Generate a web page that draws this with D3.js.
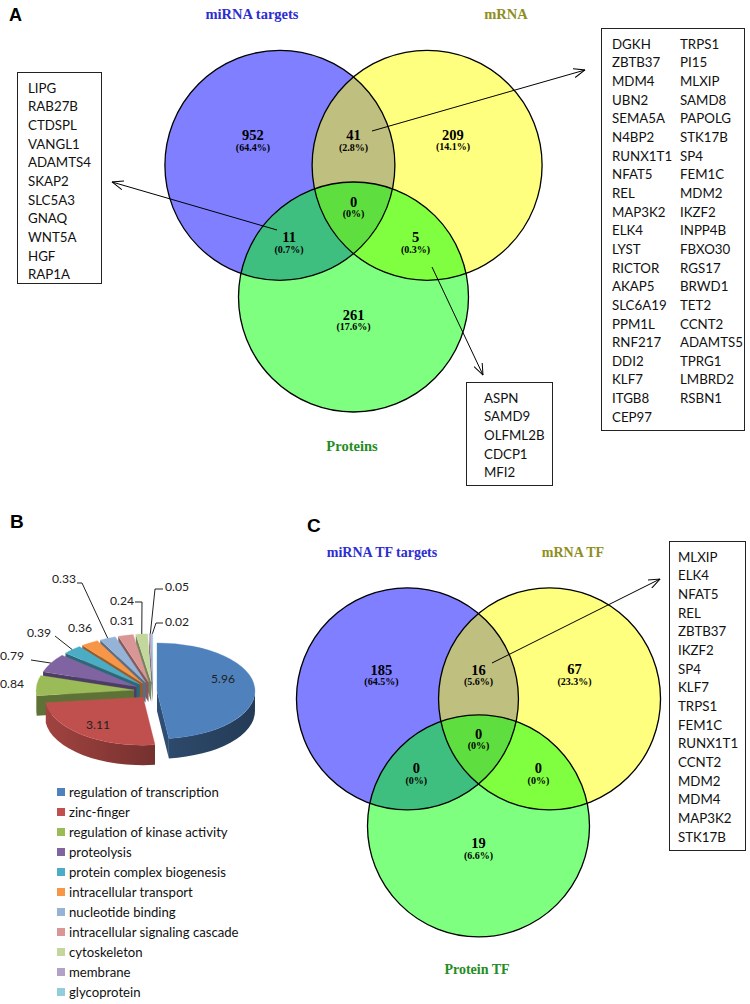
<!DOCTYPE html>
<html><head><meta charset="utf-8">
<script src="https://cdn.jsdelivr.net/npm/d3@7"></script>
<style>body{margin:0;background:#fff}</style></head>
<body><svg id="fig" width="750" height="1004"></svg>
<script>
// ---------------- DATA ----------------
// Venn region order: [set1 only, set1∩set2, set2 only, all three, set1∩set3, set2∩set3, set3 only]
const vennA_sets = ["miRNA targets", "mRNA", "Proteins"];
const vennA_counts = [952, 41, 209, 0, 11, 5, 261];
const vennA_pct = ["64.4%", "2.8%", "14.1%", "0%", "0.7%", "0.3%", "17.6%"];
const vennC_sets = ["miRNA TF targets", "mRNA TF", "Protein TF"];
const vennC_counts = [185, 16, 67, 0, 0, 0, 19];
const vennC_pct = ["64.5%", "5.6%", "23.3%", "0%", "0%", "0%", "6.6%"];

const genesA_miRNA_Protein = ["LIPG","RAB27B","CTDSPL","VANGL1","ADAMTS4","SKAP2","SLC5A3","GNAQ","WNT5A","HGF","RAP1A"];
const genesA_miRNA_mRNA_col1 = ["DGKH","ZBTB37","MDM4","UBN2","SEMA5A","N4BP2","RUNX1T1","NFAT5","REL","MAP3K2","ELK4","LYST","RICTOR","AKAP5","SLC6A19","PPM1L","RNF217","DDI2","KLF7","ITGB8","CEP97"];
const genesA_miRNA_mRNA_col2 = ["TRPS1","PI15","MLXIP","SAMD8","PAPOLG","STK17B","SP4","FEM1C","MDM2","IKZF2","INPP4B","FBXO30","RGS17","BRWD1","TET2","CCNT2","ADAMTS5","TPRG1","LMBRD2","RSBN1"];
const genesA_mRNA_Protein = ["ASPN","SAMD9","OLFML2B","CDCP1","MFI2"];
const genesC_miRNA_mRNA = ["MLXIP","ELK4","NFAT5","REL","ZBTB37","IKZF2","SP4","KLF7","TRPS1","FEM1C","RUNX1T1","CCNT2","MDM2","MDM4","MAP3K2","STK17B"];

const pieCategories = ["regulation of transcription","zinc-finger","regulation of kinase activity","proteolysis","protein complex biogenesis","intracellular transport","nucleotide binding","intracellular signaling cascade","cytoskeleton","membrane","glycoprotein"];
const pieValues = [5.96, 3.11, 0.84, 0.79, 0.39, 0.36, 0.33, 0.31, 0.24, 0.05, 0.02];
const pieColors = ["#4F81BD","#C0504D","#9BBB59","#8064A2","#4BACC6","#F79646","#95B3D7","#D99694","#C3D69B","#B3A2C7","#93CDDD"];

// ---------------- SETUP ----------------
const svg = d3.select("#fig");
const SERIF = "'Liberation Serif','Times New Roman',serif";
const SANS = "Lato, 'Open Sans', sans-serif";
const ARIAL = "'Liberation Sans', Arial, sans-serif";

function fitFont(family, weight, ref, target) {
  const t = svg.append("text").attr("font-family", family).attr("font-weight", weight)
    .attr("font-size", 20).text(ref);
  const w = t.node().getComputedTextLength();
  t.remove();
  return 20 * target / w;
}
const boxFont = fitFont(SANS, "normal", "ADAMTS4", 63);
const legFont = fitFont(SANS, "normal", "regulation of transcription", 150);
const pieLabFont = fitFont(SANS, "normal", "0.33", 24);

const defs = svg.append("defs");
defs.append("marker").attr("id", "arr").attr("markerUnits", "userSpaceOnUse")
  .attr("viewBox", "0 0 12 10").attr("refX", 11.5).attr("refY", 5)
  .attr("markerWidth", 12).attr("markerHeight", 10).attr("orient", "auto")
  .append("path").attr("d", "M0,0.5 L11.5,5 L0,9.5").attr("fill", "none")
  .attr("stroke", "#000").attr("stroke-width", 1);

function panelLabel(txt, x, y, size) {
  svg.append("text").attr("x", x).attr("y", y).attr("font-family", ARIAL)
    .attr("font-weight", "bold").attr("font-size", size).text(txt);
}

// ---------------- VENN ----------------
const vennUnitCenters = [[-0.64, -0.38], [0.64, -0.38], [0, 0.765]];
const vennUnitLabels = [[-0.875, -0.64], [0, -0.64], [0.865, -0.645], [0, -0.065], [-0.56, 0.245], [0.54, 0.245], [0, 0.92]];
const vennFills = ["#0000ff", "#ffff00", "#00ff00"];
const titleColors = ["#2d2dd2", "#8e8e1e", "#238c23"];

function drawVenn(cfg) {
  const x = d3.scaleLinear().domain([-1, 1]).range([cfg.cx - cfg.r, cfg.cx + cfg.r]);
  const y = d3.scaleLinear().domain([-1, 1]).range([cfg.cy - cfg.r, cfg.cy + cfg.r]);
  const g = svg.append("g");
  g.selectAll("circle.fill").data(vennUnitCenters).join("circle")
    .attr("cx", d => x(d[0])).attr("cy", d => y(d[1])).attr("r", cfg.r)
    .attr("fill", (d, i) => vennFills[i]).attr("fill-opacity", 0.5);
  g.selectAll("circle.stroke").data(vennUnitCenters).join("circle")
    .attr("cx", d => x(d[0])).attr("cy", d => y(d[1])).attr("r", cfg.r)
    .attr("fill", "none").attr("stroke", "#000").attr("stroke-width", 1.3);
  const lab = g.selectAll("g.lab").data(cfg.counts).join("g")
    .attr("transform", (d, i) => `translate(${x(vennUnitLabels[i][0])},${y(vennUnitLabels[i][1])})`);
  lab.append("text").attr("text-anchor", "middle").attr("y", 5)
    .attr("font-family", SERIF).attr("font-weight", "bold").attr("font-size", 14.5).text(d => d);
  lab.append("text").attr("text-anchor", "middle").attr("y", 15.5)
    .attr("font-family", SERIF).attr("font-weight", "bold").attr("font-size", 10)
    .text((d, i) => "(" + cfg.pct[i] + ")");
  cfg.titles.forEach((t, i) => {
    g.append("text").attr("x", t[0]).attr("y", t[1]).attr("text-anchor", "middle")
      .attr("font-family", SERIF).attr("font-weight", "bold").attr("font-size", cfg.titleSize)
      .attr("fill", titleColors[i]).text(cfg.sets[i]);
  });
}

function geneBox(x0, y0, x1, y1, cols) {
  svg.append("rect").attr("x", x0 + 0.5).attr("y", y0 + 0.5).attr("width", x1 - x0).attr("height", y1 - y0)
    .attr("fill", "#fff").attr("stroke", "#222").attr("stroke-width", 1);
  cols.forEach(c => {
    svg.append("g").selectAll("text").data(c.items).join("text")
      .attr("x", x0 + c.dx).attr("y", (d, i) => y0 + 16 + i * 18.65 + boxFont * 0.36)
      .attr("font-family", SANS).attr("font-size", boxFont).attr("fill", "#111").text(d => d);
  });
}
function arrow(x1, y1, x2, y2) {
  svg.append("line").attr("x1", x1).attr("y1", y1).attr("x2", x2).attr("y2", y2)
    .attr("stroke", "#000").attr("stroke-width", 1).attr("marker-end", "url(#arr)");
}

// Panel A
panelLabel("A", 9, 21, 18);
drawVenn({cx: 353.5, cy: 209, r: 115, counts: vennA_counts, pct: vennA_pct, sets: vennA_sets,
  titles: [[252, 19], [506, 19], [352, 451]], titleSize: 14.5});
geneBox(17, 72, 101, 283, [{dx: 11, items: genesA_miRNA_Protein}]);
geneBox(601, 28, 744, 430, [{dx: 11, items: genesA_miRNA_mRNA_col1}, {dx: 79, items: genesA_miRNA_mRNA_col2}]);
geneBox(466, 382, 552, 485, [{dx: 18, items: genesA_mRNA_Protein}]);
arrow(277, 230, 112, 182);
arrow(372, 131, 585, 70);
arrow(432, 267, 483, 375);

// Panel C
panelLabel("C", 307, 532, 19);
drawVenn({cx: 478.5, cy: 741, r: 111, counts: vennC_counts, pct: vennC_pct, sets: vennC_sets,
  titles: [[382, 557], [573, 557], [477, 974]], titleSize: 14});
geneBox(669, 541, 745, 850, [{dx: 9, items: genesC_miRNA_mRNA}]);
arrow(492, 663, 660, 579);

// ---------------- PANEL B : 3D PIE ----------------
panelLabel("B", 10, 528, 19);
const P = {cx: 153, cy: 691, rx: 98, ry: 48, depth: 20};
const explodeBy = [4, 16, 19, 19, 19, 19, 19, 19, 19, 19, 19];
const arcs = d3.pie().sort(null).value(d => d)(pieValues);
arcs.forEach((a, i) => {
  a.mid = (a.startAngle + a.endAngle) / 2;
  const e = explodeBy[i];
  a.off = [e * Math.sin(a.mid), -e * Math.cos(a.mid) * P.ry / P.rx];
  a.color = pieColors[i];
});
function pt(a, ang, z) {
  return [P.cx + a.off[0] + P.rx * Math.sin(ang), P.cy + a.off[1] - P.ry * Math.cos(ang) + (z || 0)];
}
function vtx(a, z) { return [P.cx + a.off[0], P.cy + a.off[1] + (z || 0)]; }
function arcTo(a, ang, sweep, z, large) {
  const p = pt(a, ang, z);
  return `A${P.rx},${P.ry} 0 ${large ? 1 : 0} ${sweep} ${p[0]},${p[1]}`;
}
const pieG = svg.append("g");
const order = arcs.map((a, i) => i).sort((i, j) => Math.cos(arcs[j].mid) - Math.cos(arcs[i].mid));
order.forEach(i => {
  const a = arcs[i];
  const c = d3.color(a.color);
  const a0 = a.startAngle, a1 = a.endAngle;
  const V = vtx(a), Vb = vtx(a, P.depth);
  // radial walls
  const wallFill = c.darker(1.4).formatHex();
  if (Math.sin(a0) < 0) {
    const p = pt(a, a0), pb = pt(a, a0, P.depth);
    pieG.append("path").attr("d", `M${V}L${p}L${pb}L${Vb}Z`).attr("fill", wallFill);
  }
  if (Math.sin(a1) > 0.001) {
    const p = pt(a, a1), pb = pt(a, a1, P.depth);
    pieG.append("path").attr("d", `M${V}L${p}L${pb}L${Vb}Z`).attr("fill", wallFill);
  }
  // outer wall (front-facing part)
  const s = Math.max(a0, Math.PI / 2), e = Math.min(a1, 3 * Math.PI / 2);
  if (e > s) {
    const gid = "gw" + i;
    const lg = defs.append("linearGradient").attr("id", gid).attr("x1", 0).attr("x2", 1).attr("y1", 0).attr("y2", 0);
    lg.append("stop").attr("offset", 0).attr("stop-color", c.darker(i === 0 ? 1.6 : 0.5).formatHex());
    lg.append("stop").attr("offset", 1).attr("stop-color", c.darker(i === 0 ? 2.2 : 1.4).formatHex());
    const large = (e - s) > Math.PI ? 1 : 0;
    const p1 = pt(a, s);
    const d = `M${p1}${arcTo(a, e, 1, 0, large)}L${pt(a, e, P.depth)}${arcTo(a, s, 0, P.depth, large)}Z`;
    pieG.append("path").attr("d", d).attr("fill", `url(#${gid})`);
  }
  // top face
  const large = (a1 - a0) > Math.PI ? 1 : 0;
  pieG.append("path").attr("d", `M${V}L${pt(a, a0)}${arcTo(a, a1, 1, 0, large)}Z`)
    .attr("fill", a.color).attr("stroke", c.brighter(0.2).formatHex()).attr("stroke-width", 0.3);
});

// pie data labels (text positions) and leader elbows
const pieLabelLayout = [
  {x: 223, y: 679, anchor: "middle"},
  {x: 98, y: 725, anchor: "middle"},
  {x: 0, y: 684, anchor: "start"},
  {x: 0, y: 656, anchor: "start", leader: [[31, 660]]},
  {x: 27, y: 633, anchor: "start", leader: [[55, 636]]},
  {x: 68, y: 628, anchor: "start"},
  {x: 52, y: 579, anchor: "start", leader: [[77, 583], [82, 583]]},
  {x: 110, y: 621, anchor: "start"},
  {x: 110, y: 601, anchor: "start", leader: [[135, 602], [142, 602]]},
  {x: 165, y: 587, anchor: "start", leader: [[163, 589], [155, 589]]},
  {x: 165, y: 622, anchor: "start", leader: [[163, 623], [156, 623]]}
];
arcs.forEach((a, i) => {
  const L = pieLabelLayout[i];
  pieG.append("text").attr("x", L.x).attr("y", L.y + pieLabFont * 0.35).attr("text-anchor", L.anchor)
    .attr("font-family", SANS).attr("font-size", pieLabFont).attr("fill", "#222")
    .text(pieValues[i].toFixed(2));
  if (L.leader) {
    const end = pt(a, a.mid);
    const pts = L.leader.concat([end]);
    pieG.append("path").attr("d", d3.line()(pts)).attr("fill", "none").attr("stroke", "#222").attr("stroke-width", 1);
  }
});

// legend
const leg = svg.append("g").selectAll("g").data(pieCategories).join("g")
  .attr("transform", (d, i) => `translate(57,${792 + i * 20})`);
leg.append("rect").attr("x", 0).attr("y", -4).attr("width", 8).attr("height", 8)
  .attr("fill", (d, i) => pieColors[i]);
leg.append("text").attr("x", 12).attr("y", legFont * 0.35).attr("font-family", SANS)
  .attr("font-size", legFont).attr("fill", "#111").text(d => d);
</script>
</body></html>
